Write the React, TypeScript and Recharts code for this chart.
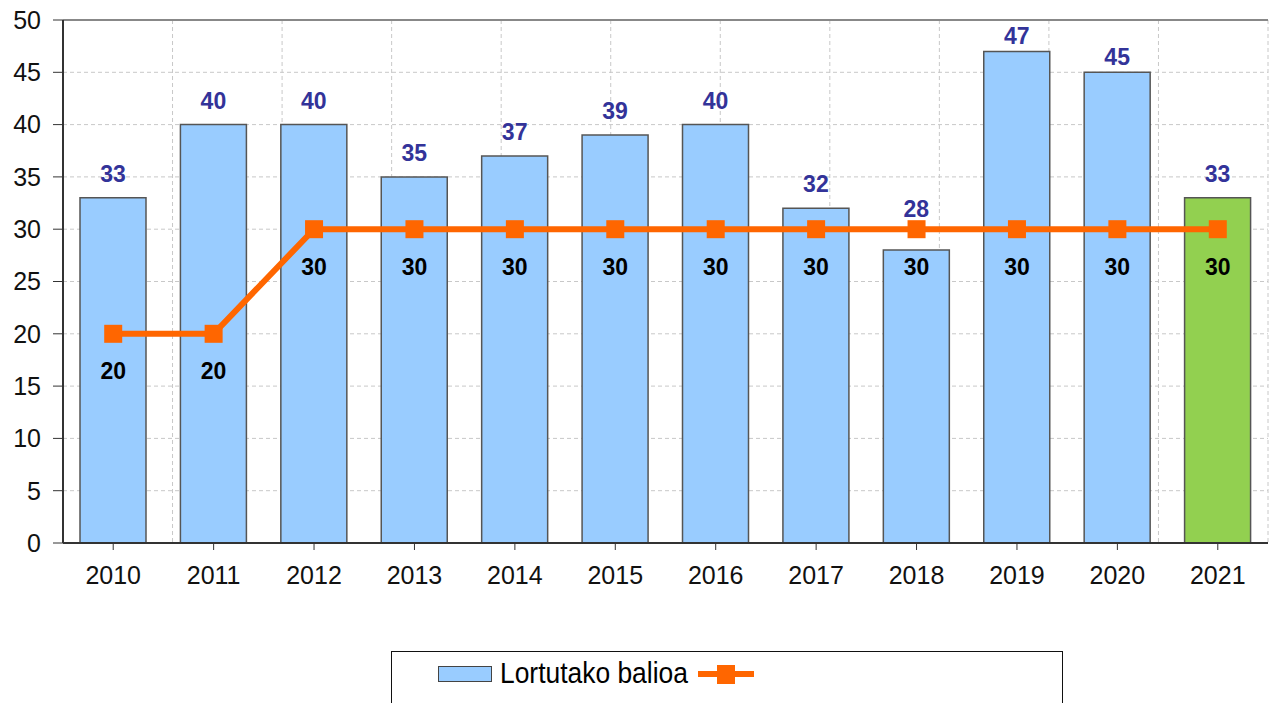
import {
  Bar,
  CartesianGrid,
  Cell,
  ComposedChart,
  LabelList,
  Line,
  ReferenceLine,
  XAxis,
  YAxis,
} from "recharts";

const years = ["2010", "2011", "2012", "2013", "2014", "2015", "2016", "2017", "2018", "2019", "2020", "2021"];
const achieved = [33, 40, 40, 35, 37, 39, 40, 32, 28, 47, 45, 33];
const target = [20, 20, 30, 30, 30, 30, 30, 30, 30, 30, 30, 30];
const yTicks = [0, 5, 10, 15, 20, 25, 30, 35, 40, 45, 50];
const bandEdges = [0, 1, 2, 3, 4, 5, 6, 7, 8, 9, 10, 11, 12];

const FONT = '"Liberation Sans", Arial, sans-serif';
const BLUE = "#99CCFF";
const GREEN = "#92D050";
const ORANGE = "#FF6600";

// label gap above bar (px); a few labels sit elsewhere in the original
const LABEL_GAP = 16;
const labelGapByYear: Record<string, number> = { "2018": 33, "2019": 7, "2020": 7 };

const data = years.map((year, i) => ({ year, value: achieved[i], target: target[i] }));

function SquareDot(props: { cx?: number; cy?: number; index?: number }) {
  const { cx, cy, index } = props;
  if (cx == null || cy == null) return <g key={index} />;
  return <rect key={index} x={cx - 9} y={cy - 9} width={18} height={18} fill={ORANGE} />;
}

function BarValueLabel(props: any) {
  const vb = props.viewBox ?? {};
  const x = props.x ?? vb.x;
  const y = props.y ?? vb.y;
  const width = props.width ?? vb.width ?? 0;
  const gap = labelGapByYear[years[props.index]] ?? LABEL_GAP;
  return (
    <text
      x={x + width / 2}
      y={y - gap}
      textAnchor="middle"
      fill="#333399"
      fontSize={23}
      fontWeight="bold"
      fontFamily={FONT}
    >
      {props.value}
    </text>
  );
}

const noTick = () => <g />;

export default function App() {
  return (
    <div style={{ position: "absolute", left: 0, top: 0, width: 1276, height: 703, overflow: "hidden", background: "#fff", fontFamily: FONT }}>
      <ComposedChart
        width={1276}
        height={703}
        data={data}
        margin={{ top: 20, right: 8, left: 0, bottom: 120 }}
        style={{ fontFamily: FONT }}
      >
        {/* numeric helper axis: band edges for grid + boundary ticks */}
        <XAxis
          xAxisId="b"
          type="number"
          domain={[0, 12]}
          ticks={bandEdges}
          height={0}
          tick={noTick}
          tickSize={7}
          tickLine={{ stroke: "#333" }}
          axisLine={false}
        />
        <XAxis
          dataKey="year"
          height={40}
          tickSize={7}
          tickMargin={16}
          axisLine={{ stroke: "#333", strokeWidth: 2 }}
          tickLine={{ stroke: "#333" }}
          tick={{ fill: "#111", fontSize: 25 }}
        />
        <YAxis
          domain={[0, 50]}
          ticks={yTicks}
          width={63}
          tickSize={10}
          tickMargin={12}
          axisLine={{ stroke: "#333", strokeWidth: 2 }}
          tickLine={{ stroke: "#333" }}
          tick={{ fill: "#111", fontSize: 25 }}
        />
        <YAxis
          yAxisId="m"
          mirror
          width={0}
          domain={[0, 50]}
          ticks={yTicks}
          tickSize={8}
          tick={noTick}
          axisLine={false}
          tickLine={{ stroke: "#333" }}
        />
        <CartesianGrid xAxisId="b" stroke="#c8c8c8" strokeDasharray="4 3" />
        <ReferenceLine y={50} stroke="#888" strokeWidth={2} />
        <ReferenceLine xAxisId="b" x={12} stroke="#888" strokeWidth={2} />
        <Bar dataKey="value" barSize={66} stroke="#555" strokeWidth={1.5} isAnimationActive={false}>
          {data.map((d, i) => (
            <Cell key={d.year} fill={i === data.length - 1 ? GREEN : BLUE} />
          ))}
          <LabelList dataKey="value" content={<BarValueLabel />} />
        </Bar>
        <Line
          dataKey="target"
          stroke={ORANGE}
          strokeWidth={6}
          dot={<SquareDot />}
          activeDot={false}
          isAnimationActive={false}
        >
          <LabelList dataKey="target" position="bottom" offset={29} fill="#000" fontSize={23} fontWeight="bold" />
        </Line>
      </ComposedChart>

      <div
        style={{
          position: "absolute",
          left: 391,
          top: 651,
          width: 672,
          height: 80,
          border: "1px solid #111",
          boxSizing: "border-box",
        }}
      >
        <div style={{ position: "absolute", left: 46, top: 14, width: 54, height: 16, background: BLUE, border: "1px solid #444", boxSizing: "border-box" }} />
        <div
          style={{
            position: "absolute",
            left: 108,
            top: 4,
            fontSize: 30,
            lineHeight: "34px",
            color: "#000",
            whiteSpace: "nowrap",
            transform: "scaleX(0.88)",
            transformOrigin: "left center",
          }}
        >
          Lortutako balioa
        </div>
        <div style={{ position: "absolute", left: 306, top: 19, width: 56, height: 6, background: ORANGE }} />
        <div style={{ position: "absolute", left: 325, top: 13, width: 18, height: 19, background: ORANGE }} />
      </div>
    </div>
  );
}
